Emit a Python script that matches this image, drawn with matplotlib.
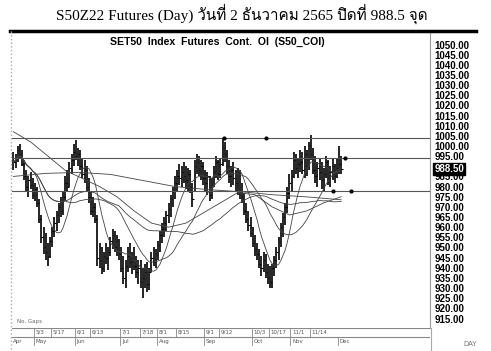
import numpy as np
import pandas as pd
import matplotlib
matplotlib.use("Agg")
import matplotlib.pyplot as plt
from matplotlib import font_manager
from matplotlib.ft2font import FT2Font

# daily bars, index 0 = 18 Apr 2022 ... 152 = 2 Dec 2022
high = [997, 996, 1000, 1001, 998, 993, 988, 985, 987, 984, 982, 980,
        974, 966, 960, 957, 952, 955, 960, 965, 968, 972, 975, 978,
        985, 988, 992, 996, 1001, 1003, 999, 998, 994, 993, 990, 984,
        978, 975, 972, 966, 952, 950, 948, 952, 950, 955, 959, 958,
        956, 954, 950, 946, 944, 950, 952, 948, 950, 946, 944, 944,
        940, 942, 943, 940, 948, 950, 949, 953, 958, 962, 965, 968,
        972, 976, 980, 985, 988, 991, 990, 992, 990, 989, 988, 982,
        993, 996, 995, 993, 992, 988, 987, 985, 984, 990, 995, 993,
        994, 1004, 1002, 998, 993, 990, 992, 988, 989, 988, 982, 977,
        972, 968, 965, 960, 956, 952, 949, 946, 948, 947, 942, 941,
        942, 946, 950, 955, 962, 967, 972, 980, 986, 988, 997, 996,
        994, 998, 997, 1000, 998, 1002, 1005.5, 999, 995, 992, 994, 992,
        989, 995, 993, 990, 994, 991, 994, 1000, 995]
low = [988, 989, 992, 994, 990, 983, 978, 975, 979, 974, 973, 970,
       962, 952, 947, 944, 941, 945, 950, 955, 958, 962, 965, 966,
       973, 978, 980, 986, 990, 993, 990, 988, 984, 982, 978, 972,
       966, 965, 962, 941, 940, 937, 938, 942, 939, 946, 949, 948,
       946, 944, 938, 932, 930, 938, 940, 937, 939, 935, 932, 930,
       925, 930, 928, 929, 938, 941, 940, 944, 948, 952, 955, 958,
       962, 965, 970, 974, 978, 981, 980, 982, 979, 978, 977, 970,
       978, 986, 985, 983, 981, 978, 976, 973, 974, 980, 984, 983,
       984, 990, 992, 986, 982, 980, 981, 978, 976, 974, 972, 966,
       962, 958, 955, 950, 946, 944, 940, 936, 938, 935, 932, 930,
       930, 936, 940, 944, 950, 955, 961, 967, 974, 978, 984, 986,
       984, 987, 986, 984, 985, 988, 993, 986, 982, 980, 983, 979,
       978, 984, 981, 980, 983, 982, 984, 986, 986]
close = [992, 994, 998, 996, 991, 985, 980, 983, 981, 976, 979, 972,
         964, 955, 950, 948, 946, 953, 958, 962, 966, 970, 968, 975,
         982, 980, 989, 993, 997, 995, 996, 990, 986, 988, 980, 975,
         968, 970, 964, 945, 944, 940, 946, 945, 948, 953, 956, 950,
         953, 947, 940, 935, 941, 946, 943, 945, 941, 938, 940, 933,
         935, 938, 932, 938, 945, 943, 947, 951, 956, 959, 962, 966,
         969, 974, 978, 982, 985, 984, 987, 985, 983, 986, 980, 974,
         990, 992, 988, 990, 984, 982, 985, 976, 980, 987, 992, 986,
         991, 999, 996, 990, 985, 988, 984, 982, 986, 978, 975, 968,
         964, 961, 957, 952, 949, 947, 942, 940, 944, 938, 935, 933,
         940, 944, 948, 953, 960, 965, 970, 977, 982, 985, 993, 989,
         991, 992, 988, 996, 990, 1000, 996, 988, 985, 989, 987, 983,
         986, 992, 984, 987, 990, 985, 989, 991, 988.5]

# slower moving averages (index, value)
mid_ma_idx = [0, 8, 16, 24, 32, 40, 48, 56, 64, 72, 80, 88, 96, 104,
              112, 120, 128, 136, 144, 152]
mid_ma_val = [1007, 1002, 995, 988, 984, 980, 975, 968, 962, 960, 962,
              967, 972, 977, 976, 970, 966, 968, 972, 975]
long_ma_idx = [0, 15, 30, 45, 60, 75, 90, 105, 120, 135, 152]
long_ma_val = [985, 986.5, 987, 986, 983, 980, 978.5, 977.5, 976, 975, 973.5]

# horizontal reference lines and the small dots on them
ref_levels = [1004, 994, 978]
dot_idx = [97.8, 117, 154, 148, 156.6]
dot_val = [1004, 1004, 994, 978, 978]

date_ticks = [10, 18, 29, 36, 50, 59, 67, 76, 89, 96, 111, 119, 129, 138]
date_labels = ["5/3", "5/17", "6/1", "6/13", "7/1", "7/18", "8/1", "8/15",
               "9/1", "9/12", "10/3", "10/17", "11/1", "11/14"]
month_ticks = [-0.5, 10, 29, 50, 67, 89, 111, 129, 151]
month_labels = ["Apr", "May", "Jun", "Jul", "Aug", "Sep", "Oct", "Nov", "Dec"]

last_price = 988.5
yticks = np.arange(915, 1051, 5)


def thai_font():
    for f in font_manager.fontManager.ttflist:
        try:
            if 0x0E27 in FT2Font(f.fname).get_charmap():
                return f.name
        except Exception:
            pass
    return "DejaVu Sans"


W, H = 491, 351
fig = plt.figure(figsize=(W / 100, H / 100), dpi=100)


def fx(px):
    return px / W


def fy(py):
    return 1 - py / H


# title
fig.text(fx(242), fy(14), "S50Z22 Futures (Day) วันที่ 2 ธันวาคม 2565 ปิดที่ 988.5 จุด",
         ha="center", va="center", fontsize=11,
         family=["Liberation Serif", thai_font()])

# main price panel
ax = fig.add_axes([fx(12), fy(328), fx(430 - 12), (328 - 32) / H])
n = len(close)
idx = np.arange(n)
ax.vlines(idx, low, high, color="black", lw=1.2)
ax.hlines(close, idx, idx + 0.7, color="black", lw=0.8)

cs = pd.Series(close)
for w in [10, 25, 50]:
    ax.plot(idx, cs.rolling(w, min_periods=1).mean(), color="#444444", lw=0.6)
ax.plot(mid_ma_idx, mid_ma_val, color="#444444", lw=0.6)
ax.plot(long_ma_idx, long_ma_val, color="#444444", lw=0.6)

for lv in ref_levels:
    ax.axhline(lv, color="#555555", lw=0.8)
ax.plot(dot_idx, dot_val, "o", color="black", ms=2)

ax.set_xlim(-0.65, 193.2)
ax.set_ylim(910.32, 1056.16)
ax.set_xticks([])
ax.yaxis.tick_right()
ax.set_yticks(yticks)
# 990.00 sits under the last-price flag
ax.set_yticklabels(["" if v == 990 else "%.2f" % v for v in yticks], fontsize=7,
                   fontweight="bold", family="Liberation Sans")
ax.tick_params(axis="y", length=0, pad=3)
for s in ["top", "bottom", "left"]:
    ax.spines[s].set_visible(False)
ax.spines["right"].set_color("#999999")
ax.spines["right"].set_linewidth(0.8)

ax.text(0.49, 0.985, "SET50  Index  Futures  Cont.  OI  (S50_COI)", transform=ax.transAxes,
        ha="center", va="top", fontsize=7.6, fontweight="bold", family="Liberation Sans")
ax.text(0.012, 0.012, "No. Gaps", transform=ax.transAxes, fontsize=4,
        color="#666666", va="bottom")

# last price flag
ax.annotate("%.2f" % last_price, xy=(1.0, last_price), xycoords=("axes fraction", "data"),
            xytext=(3, 0), textcoords="offset points", ha="left", va="center",
            fontsize=7, fontweight="bold", color="white", family="Liberation Sans",
            bbox=dict(boxstyle="square,pad=0.1", fc="black", ec="black"),
            annotation_clip=False)

# date strip
bx = fig.add_axes([fx(12), 0, fx(430 - 12), (351 - 328) / H])
bx.set_xlim(-0.65, 193.2)
bx.set_ylim(0, 23)
bx.axis("off")
bx.axhline(23, color="#888888", lw=0.8)
bx.axhline(14, color="#888888", lw=0.8)
for t, lab in zip(date_ticks, date_labels):
    bx.plot([t - 0.5, t - 0.5], [14, 23], color="#888888", lw=0.6)
    bx.text(t + 0.3, 18.5, lab, fontsize=4, color="#555555", va="center")
for t, lab in zip(month_ticks, month_labels):
    bx.plot([t - 0.5, t - 0.5], [6, 14], color="#888888", lw=0.6)
    bx.text(t + 0.3, 9.5, lab, fontsize=4, color="#555555", va="center")

# frame pieces
fig.add_artist(plt.Line2D([fx(10), fx(476)], [fy(31), fy(31)], color="black", lw=2.5))
fig.add_artist(plt.Line2D([fx(11), fx(11)], [fy(31), 0], color="#aaaaaa", lw=1.0, ls=":"))
fig.add_artist(plt.Line2D([fx(431), fx(431)], [fy(328), 0], color="#aaaaaa", lw=0.8))
fig.text(fx(470), fy(344), "DAY", fontsize=5, color="#777777", ha="center", va="center")

fig.savefig("out.png", dpi=100)
